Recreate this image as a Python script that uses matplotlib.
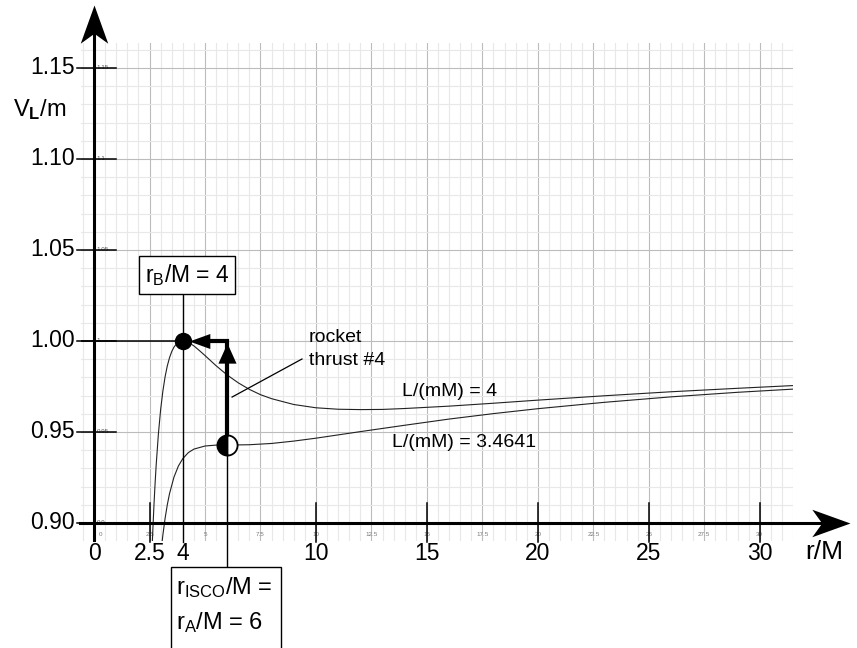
import matplotlib
matplotlib.use("Agg")
import matplotlib.pyplot as plt
from matplotlib.path import Path
from matplotlib.ticker import MultipleLocator
from matplotlib.patches import Rectangle

plt.rcParams['font.family'] = ['Liberation Sans', 'DejaVu Sans']
plt.rcParams['mathtext.fontset'] = 'custom'
plt.rcParams['mathtext.rm'] = 'Liberation Sans'
plt.rcParams['mathtext.it'] = 'Liberation Sans:italic'
plt.rcParams['mathtext.bf'] = 'Liberation Sans:bold'

# effective potential curves
r_L4 = [2.62, 2.65, 2.7, 2.75, 2.8, 2.9, 3.0, 3.1, 3.2, 3.3, 3.4, 3.5, 3.6, 3.7, 3.8, 3.9,
        4.0, 4.25, 4.5, 4.75, 5.0, 5.5, 6.0, 6.5, 7.0, 7.5, 8.0, 9.0, 10.0, 11.0, 12.0,
        13.0, 14.0, 16.0, 18.0, 20.0, 23.0, 26.0, 29.0, 32.0]
v_L4 = [0.8878, 0.8967, 0.9101, 0.9218, 0.9321, 0.9491, 0.9623, 0.9724, 0.9803, 0.9863,
        0.9908, 0.9942, 0.9966, 0.9982, 0.9993, 0.9998, 1.0000, 0.9992, 0.9973, 0.9947,
        0.9920, 0.9864, 0.9813, 0.9770, 0.9734, 0.9705, 0.9683, 0.9651, 0.9633, 0.9625,
        0.9623, 0.9624, 0.9629, 0.9642, 0.9658, 0.9675, 0.9699, 0.9721, 0.9740, 0.9758]

r_L346 = [3.0, 3.05, 3.1, 3.2, 3.3, 3.4, 3.6, 3.8, 4.0, 4.25, 4.5, 5.0, 5.5, 6.0, 7.0,
          8.0, 9.0, 10.0, 12.0, 14.0, 16.0, 18.0, 20.0, 23.0, 26.0, 29.0, 32.0]
v_L346 = [0.8819, 0.8879, 0.8933, 0.9025, 0.9100, 0.9161, 0.9252, 0.9313, 0.9354, 0.9387,
          0.9406, 0.9423, 0.9428, 0.9428, 0.9430, 0.9437, 0.9450, 0.9466, 0.9502, 0.9537,
          0.9571, 0.9601, 0.9628, 0.9663, 0.9693, 0.9718, 0.9739]

r_B, v_B = 4, 1.00
r_A, v_A = 6, 0.9428

y_ticks = [0.90, 0.95, 1.00, 1.05, 1.10, 1.15]
y_big_labels = ['0.90', '0.95', '1.00', '1.05', '1.10', '1.15']
y_small_labels = ['0.9', '0.95', '1', '1.05', '1.1', '1.15']
x_big_ticks = [0, 2.5, 4, 10, 15, 20, 25, 30]
x_big_labels = ['0', '2.5', '4', '10', '15', '20', '25', '30']
x_marks = [2.5, 10, 15, 20, 25, 30]
x_small = [0, 2.5, 5, 7.5, 10, 12.5, 15, 17.5, 20, 22.5, 25, 27.5, 30]

fig = plt.figure(figsize=(8.57, 6.48), dpi=100)
ax = fig.add_axes([0.0945, 0.1651, 0.8308, 0.7685])
ax.set_xlim(-0.59, 31.5)
ax.set_ylim(0.8901, 1.1637)
for s in ax.spines.values():
    s.set_visible(False)
ax.xaxis.set_major_locator(MultipleLocator(2.5))
ax.xaxis.set_minor_locator(MultipleLocator(0.5))
ax.yaxis.set_major_locator(MultipleLocator(0.05))
ax.yaxis.set_minor_locator(MultipleLocator(0.01))
ax.tick_params(which='both', length=0, labelbottom=False, labelleft=False)
ax.set_axisbelow(True)
ax.grid(which='minor', color='#e8e8e8', lw=0.8)
ax.grid(which='major', color='#bcbcbc', lw=0.8)

# arrow head shapes (tip at origin)
head_up = Path([(0, 0), (-0.36, -1), (0, -0.74), (0.36, -1), (0, 0)], closed=True)
head_right = Path([(0, 0), (-1, 0.36), (-0.74, 0), (-1, -0.36), (0, 0)], closed=True)
tri_up = Path([(0, 0), (-0.45, -1), (0.45, -1), (0, 0)], closed=True)
tri_left = Path([(0, 0), (1, 0.36), (1, -0.36), (0, 0)], closed=True)

# axes with arrows
ax.plot([0, 0], [0.8905, 1.172], color='black', lw=2.2, clip_on=False, zorder=5)
ax.plot([0], [1.1846], marker=head_up, ms=55, color='black', mew=0, clip_on=False, zorder=5)
ax.plot([-0.63, 33.3], [0.90, 0.90], color='black', lw=2.2, clip_on=False, zorder=5)
ax.plot([34.07], [0.90], marker=head_right, ms=55, color='black', mew=0, clip_on=False, zorder=5)

# y ticks and labels
for v, big, small in zip(y_ticks, y_big_labels, y_small_labels):
    ax.plot([-0.75, 1.0], [v, v], color='black', lw=1.1, clip_on=False, zorder=4)
    ax.text(-0.85, v, big, ha='right', va='center', fontsize=16.5)
    ax.text(0.12, v, small, ha='left', va='center', fontsize=4.5, color='#555555')

# x ticks and labels
for r in x_marks:
    ax.plot([r, r], [0.8897, 0.911], color='black', lw=1.1, clip_on=False, zorder=4)
for r, lab in zip(x_big_ticks, x_big_labels):
    ax.text(r, 0.8835, lab, ha='center', va='center', fontsize=16.5)
for r in x_small:
    ax.text(r if r > 0 else 0.3, 0.8935, f'{r:g}', ha='center', va='center',
            fontsize=4.5, color='#777777')

ax.text(-3.65, 1.1236, r'V$_{\mathbf{L}}$/m', ha='left', va='baseline', fontsize=17)
ax.text(32.04, 0.8841, 'r/M', ha='left', va='center', fontsize=19, clip_on=False)

# curves
ax.plot(r_L4, v_L4, color='#222222', lw=0.8, zorder=3)
ax.plot(r_L346, v_L346, color='#222222', lw=0.8, zorder=3)
ax.text(13.88, 0.9698, 'L/(mM) = 4', ha='left', va='baseline', fontsize=14)
ax.text(13.42, 0.9418, 'L/(mM) = 3.4641', ha='left', va='baseline', fontsize=14)

# r_B marker line and box
ax.plot([-0.75, r_B], [v_B, v_B], color='black', lw=1.1, zorder=4)
ax.plot([r_B, r_B], [0.8897, 1.0264], color='black', lw=1.0, clip_on=False, zorder=4)
ax.text(4.19, 1.0363, r'r$_{\rm B}$/M = 4', ha='center', va='center', fontsize=16.5, zorder=6,
        bbox=dict(boxstyle='square,pad=0.25', facecolor='white', edgecolor='black', lw=1.0))

# r_A / ISCO marker line and box
ax.plot([r_A, r_A], [0.8758, v_A], color='black', lw=1.0, clip_on=False, zorder=4)
ax.add_patch(Rectangle((3.47, 0.8200), 4.95, 0.0558, facecolor='white', edgecolor='black',
                       lw=1.0, clip_on=False, zorder=6))
ax.text(3.70, 0.8610, r'r$_{\rm ISCO}$/M =', ha='left', va='baseline', fontsize=17, zorder=7)
ax.text(3.70, 0.8418, r'r$_{\rm A}$/M = 6', ha='left', va='baseline', fontsize=17, zorder=7)

# rocket thrust path
ax.plot([r_A, r_A, 4.9], [v_A, v_B, v_B], color='black', lw=3, solid_joinstyle='miter', zorder=7)
ax.plot([r_A], [0.9989], marker=tri_up, ms=29, color='black', mew=0, zorder=8)
ax.plot([4.28], [v_B], marker=tri_left, ms=30, color='black', mew=0, zorder=8)
ax.plot([r_B], [v_B], marker='o', ms=11.5, color='black', zorder=9)
ax.plot([r_A], [v_A], marker='o', ms=14.5, fillstyle='left', markerfacecolor='black',
        markerfacecoloralt='white', markeredgecolor='black', mew=1.3, zorder=9)

ax.plot([9.37, 6.22], [0.9901, 0.9692], color='black', lw=0.9, zorder=4)
ax.text(9.68, 0.9995, 'rocket', ha='left', va='baseline', fontsize=14)
ax.text(9.68, 0.9868, 'thrust #4', ha='left', va='baseline', fontsize=14)

fig.savefig('out.png', dpi=100)
